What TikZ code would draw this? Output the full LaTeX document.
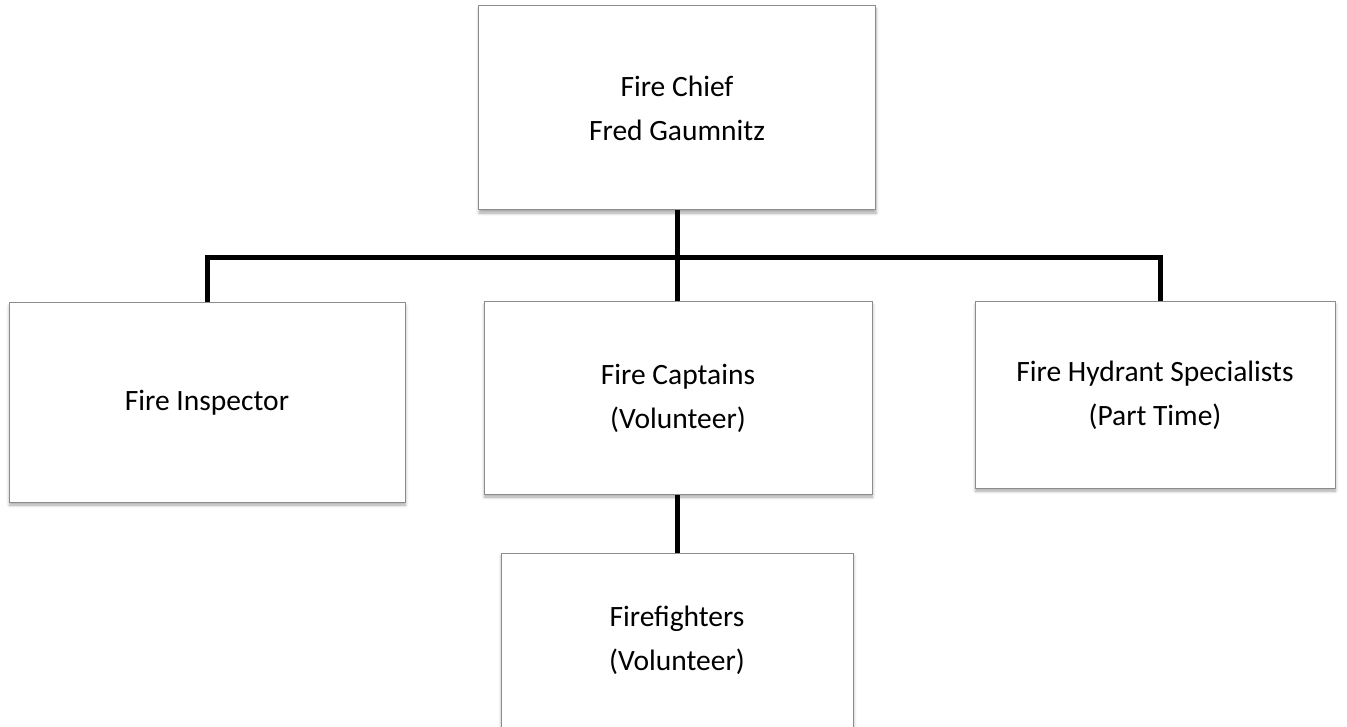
\documentclass[tikz,border=0pt]{standalone}
\usepackage{fontspec}
\setmainfont{Carlito}
\usetikzlibrary{shadows.blur,backgrounds}
\tikzset{
  box/.style={draw=black!45, line width=1pt, fill=white, rectangle, align=center,
    inner sep=0pt, font=\fontsize{29.5}{44}\selectfont,
    blur shadow={shadow xshift=0.5pt, shadow yshift=-3pt, shadow blur radius=3pt, shadow opacity=35}},
  txt/.style={align=center, inner sep=0pt, font=\fontsize{29.5}{44}\selectfont},
  conn/.style={line width=5pt, black}
}
\begin{document}
\begin{tikzpicture}[x=1pt,y=-1pt]
\useasboundingbox (0,0) rectangle (1347,727);
\node[box, minimum width=397pt, minimum height=204pt] (chief) at (677,108) {Fire Chief\\Fred Gaumnitz};
\node[box, minimum width=396pt, minimum height=199pt] (insp) at (207,402.5) {Fire Inspector};
\node[box, minimum width=388pt, minimum height=192pt] (capt) at (678,398) {Fire Captains\\(Volunteer)};
\node[box, minimum width=360pt, minimum height=186pt] (hyd) at (1155,395) {Fire Hydrant Specialists\\(Part Time)};
\node[box, minimum width=352pt, minimum height=220pt] (ff) at (677,663) {};
\node[txt] (fftxt) at (677,640) {Firefighters\\(Volunteer)};
\coordinate (bl) at (207,258);
\coordinate (bm) at (677,258);
\coordinate (br) at (1160,258);
\begin{pgfonlayer}{background}
\draw[conn] (chief.south -| bm) -- (capt.north -| bm);
\draw[conn] (insp.north -| bl) -- (bl) -- (br) -- (hyd.north -| br);
\draw[conn] (capt.south -| bm) -- (ff.north -| bm);
\end{pgfonlayer}
\end{tikzpicture}
\end{document}
